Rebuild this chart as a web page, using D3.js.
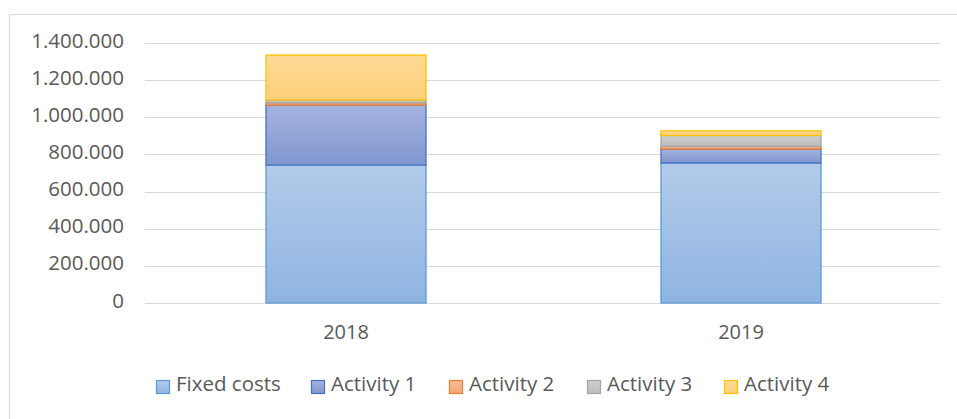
<!DOCTYPE html>
<html>
  <head>
    <meta charset="UTF-8">
    <title>costs</title>
    <script src="https://d3js.org/d3.v7.min.js"></script>
    <style>
      body { margin: 0; background: #fff; }
      svg { display: block; font-family: "Open Sans", sans-serif; }
    </style>
  </head>

  <body>
    <div class="chart"></div>

    <script type="application/javascript">
      const years = ["2018", "2019"];
      const seriesNames = ["Fixed costs", "Activity 1", "Activity 2", "Activity 3", "Activity 4"];
      const fixedCosts = [743000, 754000];
      const activity1 = [323000, 75000];
      const activity2 = [12000, 14000];
      const activity3 = [15000, 59000];
      const activity4 = [242000, 25000];
      const yTicks = [0, 200000, 400000, 600000, 800000, 1000000, 1200000, 1400000];

      // fill top/bottom and outline, excel-ish
      const colors = [
        {top: "#b3cbea", bottom: "#8fb4e2", line: "#5b9bd5"},
        {top: "#a6b4de", bottom: "#8096d0", line: "#4472c4"},
        {top: "#f6bd9a", bottom: "#f2a77a", line: "#ed7d31"},
        {top: "#cfcfcf", bottom: "#bdbdbd", line: "#a5a5a5"},
        {top: "#ffdb97", bottom: "#fdd07a", line: "#ffc000"}
      ];

      const values = [fixedCosts, activity1, activity2, activity3, activity4];
      const rows = years.map((y, i) => {
        const r = {year: y};
        seriesNames.forEach((s, k) => r[s] = values[k][i]);
        return r;
      });

      const W = 957, H = 419;
      const svg = d3.select(".chart").append("svg").attr("width", W).attr("height", H);

      const defs = svg.append("defs");
      colors.forEach((c, i) => {
        const g = defs.append("linearGradient").attr("id", "g" + i)
          .attr("x1", 0).attr("y1", 0).attr("x2", 0).attr("y2", 1);
        g.append("stop").attr("offset", "0%").attr("stop-color", c.top);
        g.append("stop").attr("offset", "100%").attr("stop-color", c.bottom);
      });

      // chart frame
      svg.append("rect").attr("x", 9.5).attr("y", 14.5).attr("width", 980).attr("height", 430)
        .attr("fill", "none").attr("stroke", "#d9d9d9");

      const x = d3.scaleBand().domain(years).range([148.5, 938.5]).paddingInner(0).paddingOuter(0);
      const y = d3.scaleLinear().domain([0, 1400000]).range([303, 43]);

      const loc = d3.formatLocale({decimal: ",", thousands: ".", grouping: [3], currency: ["", ""]});
      const fmt = loc.format(",d");

      // gridlines
      svg.append("g").selectAll("line").data(yTicks).join("line")
        .attr("x1", 145).attr("x2", 940)
        .attr("y1", d => Math.round(y(d)) + 0.5).attr("y2", d => Math.round(y(d)) + 0.5)
        .attr("stroke", "#d9d9d9").attr("stroke-width", 1);

      const yAxis = svg.append("g").attr("transform", "translate(124,0)")
        .call(d3.axisLeft(y).tickValues(yTicks).tickFormat(fmt).tickSize(0).tickPadding(0));
      yAxis.select(".domain").remove();
      yAxis.selectAll("text").attr("fill", "#595959").attr("dy", null).attr("y", 4)
        .style("font-size", "20.5px").style("font-family", "Open Sans, sans-serif");

      const xAxis = svg.append("g").attr("transform", "translate(0,303)")
        .call(d3.axisBottom(x).tickSize(0));
      xAxis.select(".domain").remove();
      xAxis.selectAll("text").attr("fill", "#595959").attr("dy", null).attr("y", 36)
        .style("font-size", "20px").style("font-family", "Open Sans, sans-serif");

      const stack = d3.stack().keys(seriesNames)(rows);
      const barW = 160;

      svg.append("g").selectAll("g").data(stack).join("g")
        .attr("fill", (d, i) => `url(#g${i})`)
        .attr("stroke", (d, i) => colors[i].line)
        .attr("stroke-width", 1.3)
        .selectAll("rect").data(d => d).join("rect")
        .attr("x", d => x(d.data.year) + x.bandwidth() / 2 - barW / 2)
        .attr("width", barW)
        .attr("y", d => y(d[1]))
        .attr("height", d => y(d[0]) - y(d[1]));

      // legend
      const legendX = [156, 311, 449, 587, 724];
      const lg = svg.append("g").selectAll("g").data(seriesNames).join("g")
        .attr("transform", (d, i) => `translate(${legendX[i]},379)`);
      lg.append("rect").attr("x", 0.5).attr("y", 1.5).attr("width", 13).attr("height", 13)
        .attr("fill", (d, i) => `url(#g${i})`)
        .attr("stroke", (d, i) => colors[i].line).attr("stroke-width", 1.2);
      lg.append("text").attr("x", 20).attr("y", 12)
        .attr("fill", "#595959").style("font-size", "20.5px")
        .text(d => d);
    </script>
  </body>

</html>
